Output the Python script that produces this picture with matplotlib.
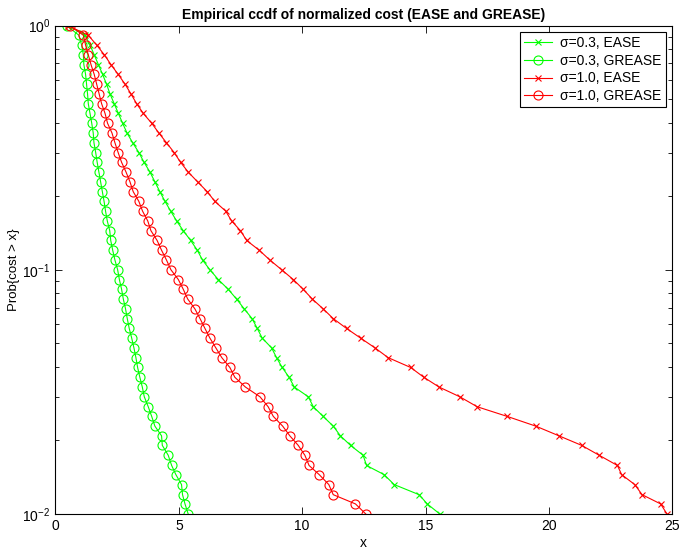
import matplotlib
matplotlib.use("Agg")
import matplotlib.pyplot as plt
from matplotlib.ticker import LogLocator

plt.rcParams['font.family'] = ['Liberation Sans', 'DejaVu Sans']
plt.rcParams['mathtext.default'] = 'regular'

# probability levels (y) shared by all curves
prob = [1.0, 0.9120, 0.8318, 0.7586, 0.6918, 0.6310, 0.5754, 0.5248, 0.4786, 0.4365,
        0.3981, 0.3631, 0.3311, 0.3020, 0.2754, 0.2512, 0.2291, 0.2089, 0.1905, 0.1738,
        0.1585, 0.1445, 0.1318, 0.1202, 0.1096, 0.1000, 0.0912, 0.0832, 0.0759, 0.0692,
        0.0631, 0.0575, 0.0525, 0.0479, 0.0437, 0.0398, 0.0363, 0.0331, 0.0302, 0.0275,
        0.0251, 0.0229, 0.0209, 0.0191, 0.0174, 0.0158, 0.0145, 0.0132, 0.0120, 0.0110,
        0.0100]

# normalized cost values
s03_ease = [0.50, 1.20, 1.40, 1.57, 1.74, 1.91, 2.07, 2.21, 2.38, 2.55,
            2.72, 2.90, 3.13, 3.38, 3.59, 3.83, 4.03, 4.23, 4.44, 4.67,
            4.91, 5.18, 5.48, 5.75, 5.96, 6.26, 6.60, 7.00, 7.34, 7.65,
            7.97, 8.18, 8.38, 8.76, 8.96, 9.19, 9.47, 9.68, 10.25, 10.45,
            10.85, 11.26, 11.55, 11.96, 12.47, 12.61, 13.32, 13.73, 14.74, 15.07,
            15.58]
s03_grease = [0.45, 0.95, 1.06, 1.13, 1.15, 1.22, 1.26, 1.30, 1.33, 1.40,
              1.47, 1.53, 1.56, 1.63, 1.69, 1.76, 1.83, 1.90, 1.97, 2.03,
              2.10, 2.20, 2.24, 2.32, 2.41, 2.52, 2.59, 2.68, 2.75, 2.84,
              2.91, 2.99, 3.09, 3.18, 3.26, 3.33, 3.42, 3.52, 3.60, 3.76,
              3.90, 4.03, 4.30, 4.33, 4.57, 4.71, 4.88, 5.11, 5.15, 5.25,
              5.38]
s10_ease = [0.50, 1.33, 1.67, 1.98, 2.25, 2.54, 2.82, 3.06, 3.29, 3.56,
            3.90, 4.19, 4.50, 4.81, 5.07, 5.38, 5.76, 6.15, 6.46, 6.90,
            7.14, 7.50, 7.75, 8.26, 8.69, 9.17, 9.64, 10.04, 10.41, 10.85,
            11.26, 11.80, 12.37, 12.95, 13.48, 14.40, 14.93, 15.55, 16.39, 17.09,
            18.31, 19.47, 20.41, 21.33, 22.04, 22.78, 22.95, 23.48, 23.78, 24.53,
            24.79]
s10_grease = [0.59, 1.13, 1.22, 1.33, 1.44, 1.57, 1.67, 1.77, 1.87, 2.01,
              2.11, 2.29, 2.41, 2.54, 2.68, 2.86, 3.02, 3.15, 3.38, 3.53,
              3.74, 3.87, 4.12, 4.30, 4.50, 4.68, 4.98, 5.18, 5.36, 5.65,
              5.86, 6.06, 6.26, 6.50, 6.74, 7.07, 7.27, 7.70, 8.29, 8.62,
              8.83, 9.21, 9.50, 9.84, 10.11, 10.28, 10.69, 11.08, 11.26, 12.16,
              12.58]

fig = plt.figure(figsize=(6.79, 5.52), dpi=100)
ax = fig.add_axes([0.0817, 0.0688, 0.9083, 0.885])

ax.semilogy(s03_ease, prob, color=(0, 1, 0), marker='x', ms=4.5, mew=0.8, lw=0.8,
            label='σ=0.3, EASE')
ax.semilogy(s03_grease, prob, color=(0, 1, 0), marker='o', ms=6.5, mfc='none', mew=0.8, lw=0.8,
            label='σ=0.3, GREASE')
ax.semilogy(s10_ease, prob, color=(1, 0, 0), marker='x', ms=4.5, mew=0.8, lw=0.8,
            label='σ=1.0, EASE')
ax.semilogy(s10_grease, prob, color=(1, 0, 0), marker='o', ms=6.5, mfc='none', mew=0.8, lw=0.8,
            label='σ=1.0, GREASE')

ax.set_xlim(0, 25)
ax.set_ylim(0.01, 1)
ax.set_xticks([0, 5, 10, 15, 20, 25])
ax.yaxis.set_minor_locator(LogLocator(base=10, subs=range(2, 10)))
ax.tick_params(which='both', direction='in', top=True, right=True, labelsize=10, width=0.6)
ax.tick_params(which='major', length=5)
ax.tick_params(which='minor', length=3)
for sp in ax.spines.values():
    sp.set_linewidth(0.8)

ax.set_title('Empirical ccdf of normalized cost (EASE and GREASE)', fontsize=10,
             fontweight='bold', pad=5)
ax.set_xlabel('x', fontsize=10, labelpad=2)
ax.set_ylabel('Prob{cost > x}', fontsize=9.5, labelpad=2)

leg = ax.legend(loc='upper right', fontsize=10, fancybox=False, framealpha=1,
                edgecolor='black', borderaxespad=0.45, handlelength=2.0,
                labelspacing=0.27, borderpad=0.3, handletextpad=0.6)
leg.get_frame().set_linewidth(0.8)

fig.savefig('out.png', dpi=100)
